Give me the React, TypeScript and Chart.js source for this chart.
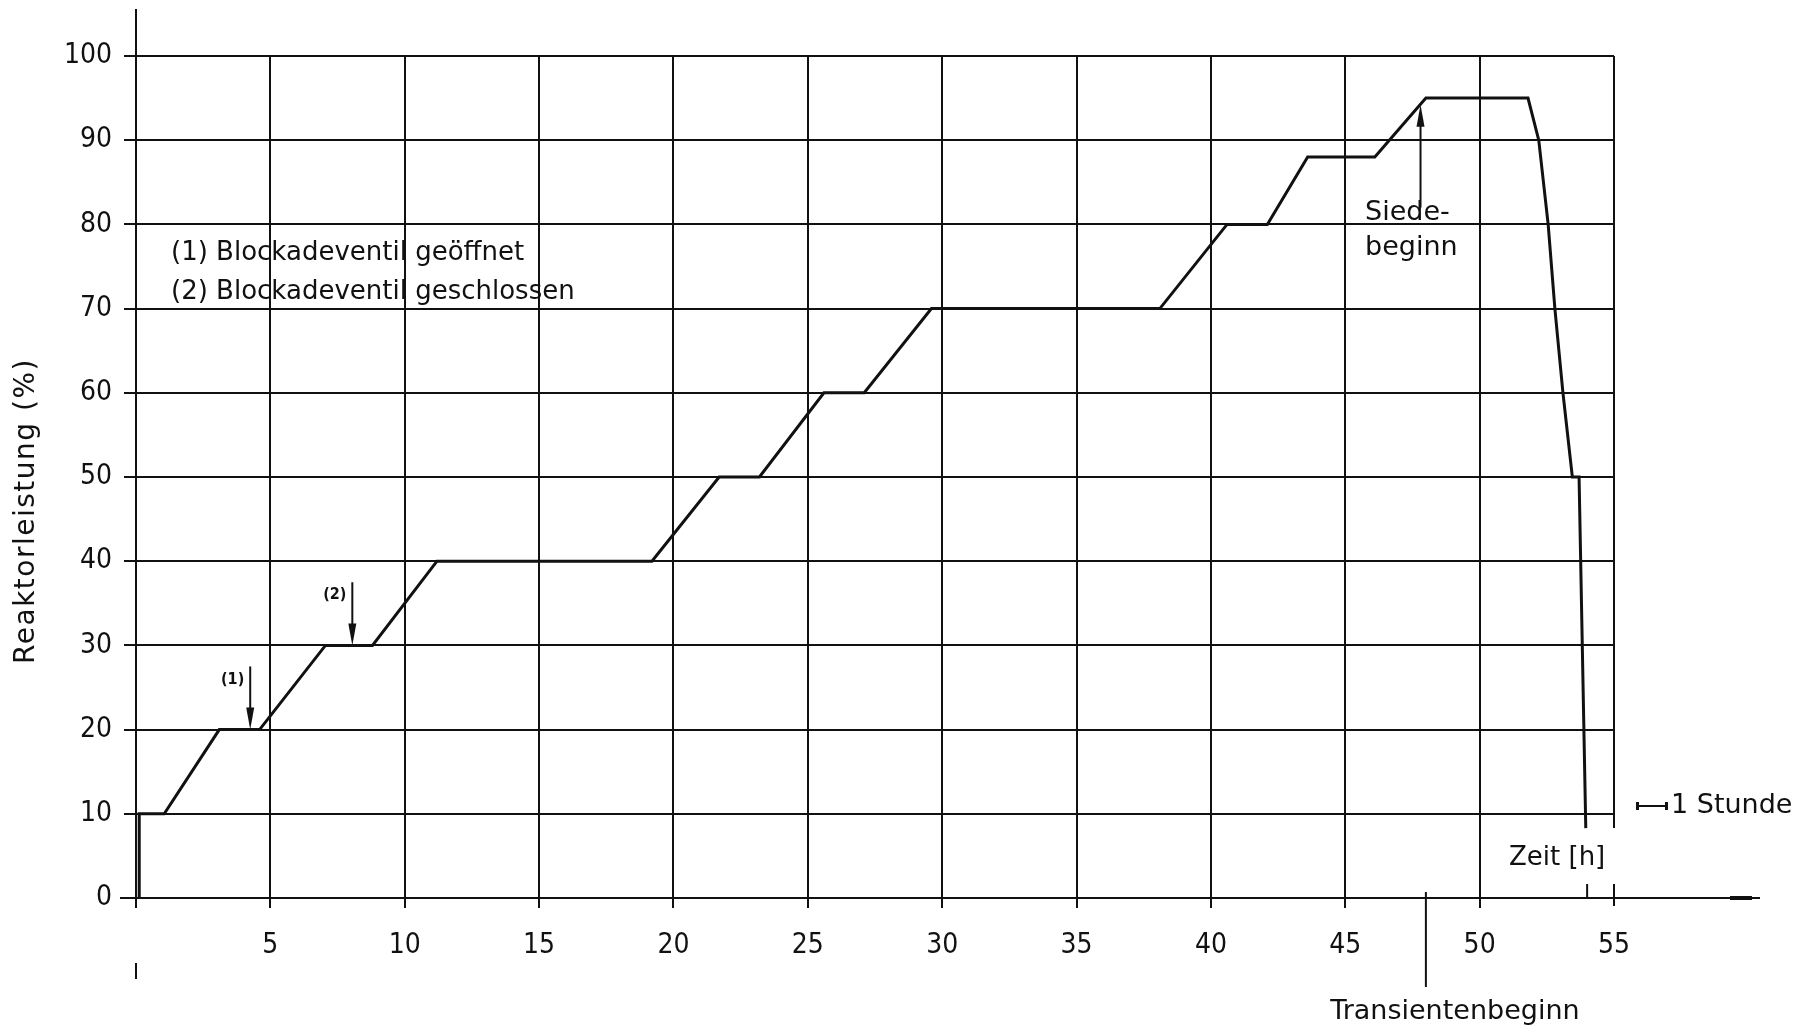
import React, { useEffect, useRef } from "react";
import { Chart, registerables } from "chart.js";

Chart.register(...registerables);

// ---- data ----
const timeHours = [0.12, 0.12, 1.05, 3.1, 4.6, 7.05, 8.8, 11.2, 19.2, 21.7, 23.2, 25.6, 27.1, 29.6, 38.1, 40.6, 42.1, 43.6, 46.1, 48.0, 51.8, 52.2, 52.55, 52.8, 53.1, 53.45, 53.7, 53.95];
const powerPct = [0, 10, 10, 20, 20, 30, 30, 40, 40, 50, 50, 60, 60, 70, 70, 80, 80, 88, 88, 95, 95, 90, 80, 70, 60, 50, 50, 8.3];

const xTickValues = [0, 5, 10, 15, 20, 25, 30, 35, 40, 45, 50, 55];
const yTickValues = [0, 10, 20, 30, 40, 50, 60, 70, 80, 90, 100];

const legendLines = ["(1) Blockadeventil geöffnet", "(2) Blockadeventil geschlossen"];
// event markers: [time, arrow tail value, arrow head value, label]
const eventMarkers: [number, number, number, string][] = [
  [4.25, 27.5, 20, "(1)"],
  [8.05, 37.5, 30, "(2)"],
];
const siedeMarker: [number, number, number] = [47.8, 82, 94.2];
const transientStart = 48;
const secondScaleTicks = [54, 55];
const gridEndValue = 8.3;

const FONT_C = '"DejaVu Sans Condensed", "Liberation Sans Narrow", "DejaVu Sans", sans-serif';
const FONT = '"DejaVu Sans", sans-serif';
const INK = "#111";

const overlay = {
  id: "overlay",
  afterDraw(chart: any) {
    const ctx = chart.ctx as CanvasRenderingContext2D;
    const xs = chart.scales.x;
    const ys = chart.scales.y;
    const X = (v: number) => xs.getPixelForValue(v);
    const Y = (v: number) => ys.getPixelForValue(v);
    const a = chart.chartArea;
    ctx.save();
    ctx.strokeStyle = INK;
    ctx.fillStyle = INK;
    ctx.lineCap = "butt";

    // y axis extended upwards and below
    ctx.lineWidth = 2;
    ctx.beginPath();
    ctx.moveTo(X(0), 9);
    ctx.lineTo(X(0), a.bottom + 8);
    ctx.stroke();

    // x axis extended to the right with arrow
    ctx.beginPath();
    ctx.moveTo(a.left - 16, Y(0));
    ctx.lineTo(1760, Y(0));
    ctx.stroke();
    ctx.lineWidth = 4;
    ctx.beginPath();
    ctx.moveTo(1730, Y(0));
    ctx.lineTo(1752, Y(0));
    ctx.stroke();

    // 55 h grid line, ends above the axis
    ctx.lineWidth = 2;
    ctx.beginPath();
    ctx.moveTo(X(55), a.top);
    ctx.lineTo(X(55), Y(gridEndValue));
    ctx.stroke();
    // small ticks of the second time scale
    for (const t of secondScaleTicks) {
      ctx.beginPath();
      ctx.moveTo(X(t), Y(0) - 14);
      ctx.lineTo(X(t), Y(0) + (t === 55 ? 8 : 0));
      ctx.stroke();
    }

    // event arrows
    const arrow = (x: number, y1: number, y2: number) => {
      const px = X(x);
      const p1 = Y(y1);
      const p2 = Y(y2);
      const dir = p2 > p1 ? 1 : -1;
      ctx.lineWidth = 2;
      ctx.beginPath();
      ctx.moveTo(px, p1);
      ctx.lineTo(px, p2 - dir * 14);
      ctx.stroke();
      ctx.beginPath();
      ctx.moveTo(px, p2);
      ctx.lineTo(px - 4, p2 - dir * 22);
      ctx.lineTo(px + 4, p2 - dir * 22);
      ctx.closePath();
      ctx.fill();
    };
    ctx.font = `bold 16px ${FONT_C}`;
    ctx.textAlign = "right";
    ctx.textBaseline = "middle";
    for (const [t, v1, v2, lbl] of eventMarkers) {
      arrow(t, v1, v2);
      ctx.fillText(lbl, X(t) - 6, Y(v1) + 13);
    }
    arrow(siedeMarker[0], siedeMarker[1], siedeMarker[2]);

    // texts
    ctx.textAlign = "left";
    ctx.font = `26px ${FONT}`;
    ctx.fillText(legendLines[0], 171, 253);
    ctx.fillText(legendLines[1], 171, 292);

    ctx.font = `27px ${FONT}`;
    ctx.fillText("Siede-", 1365, 213);
    ctx.fillText("beginn", 1365, 248);

    ctx.font = `26px ${FONT}`;
    ctx.fillText("Zeit [h]", 1509, 858);

    ctx.font = `27px ${FONT}`;
    ctx.fillText("1 Stunde", 1671, 806);
    ctx.lineWidth = 2;
    ctx.beginPath();
    ctx.moveTo(1637, 806);
    ctx.lineTo(1667, 806);
    ctx.stroke();
    ctx.fillRect(1636, 802, 3, 8);
    ctx.fillRect(1665, 802, 3, 8);

    // Transientenbeginn marker
    ctx.beginPath();
    ctx.moveTo(X(transientStart), Y(0) - 6);
    ctx.lineTo(X(transientStart), Y(0) + 89);
    ctx.stroke();
    ctx.textAlign = "center";
    ctx.font = `27px ${FONT}`;
    ctx.fillText("Transientenbeginn", X(transientStart) + 29, 1012);

    // start marker below the axis
    ctx.beginPath();
    ctx.moveTo(X(0), 963);
    ctx.lineTo(X(0), 979);
    ctx.stroke();

    // y axis title
    ctx.save();
    ctx.translate(27, 511);
    ctx.rotate(-Math.PI / 2);
    ctx.textAlign = "center";
    ctx.font = `28px ${FONT}`;
    try {
      (ctx as any).letterSpacing = "1.5px";
    } catch (e) {}
    ctx.fillText("Reaktorleistung (%)", 0, 0);
    ctx.restore();

    ctx.restore();
  },
};

export default function App() {
  const ref = useRef<HTMLCanvasElement | null>(null);
  useEffect(() => {
    if (!ref.current) return;
    const chart = new Chart(ref.current, {
      type: "line",
      data: {
        datasets: [
          {
            data: timeHours.map((t, i) => ({ x: t, y: powerPct[i] })),
            borderColor: INK,
            borderWidth: 3,
            pointRadius: 0,
            tension: 0,
            fill: false,
          },
        ],
      },
      options: {
        animation: false,
        responsive: false,
        devicePixelRatio: 1,
        layout: { padding: { left: 0, top: 56, right: 195, bottom: 0 } },
        plugins: { legend: { display: false }, tooltip: { enabled: false } },
        scales: {
          x: {
            type: "linear",
            min: 0,
            max: 55,
            afterBuildTicks: (s: any) => {
              s.ticks = xTickValues.map((v) => ({ value: v }));
            },
            afterFit: (s: any) => {
              s.height = 134;
            },
            ticks: {
              color: INK,
              font: { family: FONT_C, size: 28 },
              padding: 21,
              maxRotation: 0,
              callback: (v: any) => (v === 0 ? "" : String(v)),
            },
            grid: {
              color: (c: any) => (c.tick && c.tick.value === 55 ? "rgba(0,0,0,0)" : INK),
              lineWidth: 2,
              tickLength: 10,
            },
            border: { display: true, color: INK, width: 2 },
          },
          y: {
            type: "linear",
            min: 0,
            max: 100,
            afterBuildTicks: (s: any) => {
              s.ticks = yTickValues.map((v) => ({ value: v }));
            },
            afterFit: (s: any) => {
              s.width = 136;
            },
            ticks: {
              color: INK,
              font: { family: FONT_C, size: 28 },
              padding: 12,
            },
            grid: { color: INK, lineWidth: 2, tickLength: 12 },
            border: { display: true, color: INK, width: 2 },
          },
        },
      },
      plugins: [overlay],
    } as any);
    return () => chart.destroy();
  }, []);
  return (
    <div style={{ position: "absolute", left: 0, top: 0, width: 1809, height: 1032, background: "#fff" }}>
      <canvas ref={ref} width={1809} height={1032} style={{ width: 1809, height: 1032 }} />
    </div>
  );
}
